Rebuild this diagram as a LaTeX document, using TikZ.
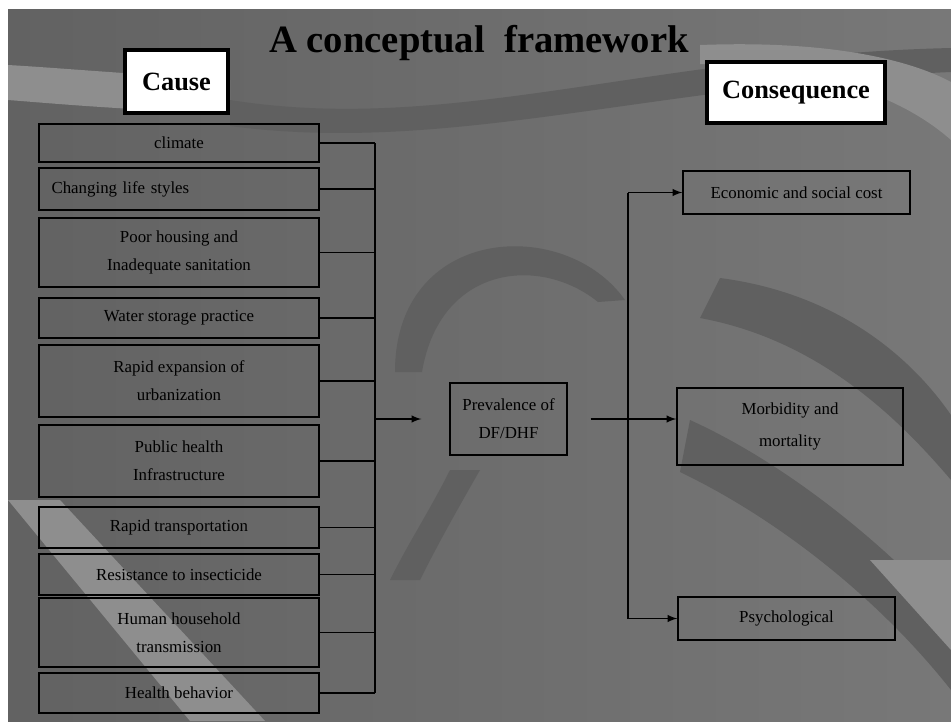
\documentclass[tikz,border=0pt]{standalone}
\usepackage{fontspec}
\setmainfont{Liberation Serif}
\definecolor{bgleft}{RGB}{98,98,98}
\definecolor{bgmid}{RGB}{134,134,134}
\definecolor{bgright}{RGB}{120,120,120}
\definecolor{banddark}{RGB}{96,96,96}
\definecolor{bandlight}{RGB}{142,142,142}
\begin{document}
\begin{tikzpicture}[x=0.02cm, y=-0.02cm, >=latex,
    box/.style={draw=black, line width=0.8pt, minimum width=5.6cm, inner sep=2pt, align=center, font=\fontsize{9.6}{16}\selectfont},
    headbox/.style={draw=black, line width=1.8pt, fill=white, inner sep=2pt, font=\fontsize{15}{18}\selectfont\bfseries},
    link/.style={draw=black, line width=0.9pt},
    darkband/.style={fill=banddark},
    lightband/.style={fill=bandlight}]
    \useasboundingbox (0,0) rectangle (951,721);
    \fill[white] (0,0) rectangle (951,721);
    \shade[left color=bgleft, middle color=bgmid, right color=bgright] (8,9) rectangle (951,721);

    \fill[lightband] (8,65) .. controls (60,68) and (100,72) .. (230,80) -- (230,114) .. controls (100,108) and (60,104) .. (8,100) -- cycle;
    \fill[darkband] (230,100) .. controls (450,135) and (650,55) .. (951,48) -- (951,72) .. controls (650,85) and (450,155) .. (230,126) -- cycle;
    \fill[lightband] (700,45) .. controls (830,40) and (910,60) .. (951,82) -- (951,140) .. controls (900,95) and (820,68) .. (700,64) -- cycle;
    \fill[darkband] (395,372) .. controls (395,225) and (565,215) .. (625,300) -- (598,302) .. controls (540,255) and (440,265) .. (422,372) -- cycle;
    \fill[darkband] (450,470) .. controls (430,510) and (410,540) .. (390,580) -- (420,580) .. controls (440,540) and (460,505) .. (480,470) -- cycle;
    \fill[darkband] (720,278) .. controls (850,295) and (920,370) .. (951,415) -- (951,480) .. controls (900,420) and (820,340) .. (700,318) -- cycle;
    \fill[darkband] (690,420) .. controls (800,470) and (900,560) .. (951,618) -- (951,690) .. controls (880,600) and (780,520) .. (680,472) -- cycle;
    \fill[lightband] (8,500) -- (60,500) -- (265,721) -- (190,721) -- cycle;
    \fill[lightband] (870,560) -- (951,560) -- (951,650) -- cycle;

    \node[font=\fontsize{22}{26}\selectfont\bfseries, anchor=base] at (479,52) (title) {A conceptual\ \ framework};
    \node[headbox, minimum width=2.06cm, minimum height=1.26cm] at (176.5,81.5) (cause) {Cause};
    \node[headbox, minimum width=3.56cm, minimum height=1.22cm] at (796,92.5) (conseq) {Consequence};

    \node[box, minimum height=0.76cm] at (179,143) (c_1) {climate};
    \node[box, minimum height=0.84cm, text width=5.1cm, align=left] at (179,189) (c_2) {Changing life styles};
    \node[box, minimum height=1.38cm] at (179,252.5) (c_3) {Poor housing and\\Inadequate sanitation};
    \node[box, minimum height=0.80cm] at (179,318) (c_4) {Water storage practice};
    \node[box, minimum height=1.44cm] at (179,381) (c_5) {Rapid expansion of\\urbanization};
    \node[box, minimum height=1.44cm] at (179,461) (c_6) {Public health\\Infrastructure};
    \node[box, minimum height=0.82cm] at (179,527.5) (c_7) {Rapid transportation};
    \node[box, minimum height=0.82cm] at (179,574.5) (c_8) {Resistance to insecticide};
    \node[box, minimum height=1.38cm] at (179,632.5) (c_9) {Human household\\transmission};
    \node[box, minimum height=0.80cm] at (179,693) (c_10) {Health behavior};

    \node[box, minimum width=2.34cm, minimum height=1.44cm] at (508.5,419) (prev) {Prevalence of\\DF/DHF};

    \node[box, minimum width=4.54cm, minimum height=0.86cm] at (796.5,192.5) (con_1) {Economic and social cost};
    \node[box, minimum width=4.52cm, minimum height=1.54cm] at (790,426.5) (con_2) {Morbidity and\\[2.7pt]mortality};
    \node[box, minimum width=4.34cm, minimum height=0.86cm] at (786.5,618.5) (con_3) {Psychological};

    \coordinate (bus) at (375,0);
    \coordinate (rbus) at (628,0);
    \foreach \i in {1,...,10}
        \draw[link] (c_\i.east) -- (c_\i.east -| bus);
    \draw[link] (c_1.east -| bus) -- (c_10.east -| bus);
    \draw[link, ->, shorten >=0.56cm] (prev.west -| bus) -- (prev.west);

    \draw[link, ->, shorten <=0.46cm] (prev.east) -- (prev.east -| con_2.west);
    \draw[link] (con_1.west -| rbus) -- (con_3.west -| rbus);
    \draw[link, ->] (con_1.west -| rbus) -- (con_1.west);
    \draw[link, ->] (con_3.west -| rbus) -- (con_3.west);
\end{tikzpicture}
\end{document}
